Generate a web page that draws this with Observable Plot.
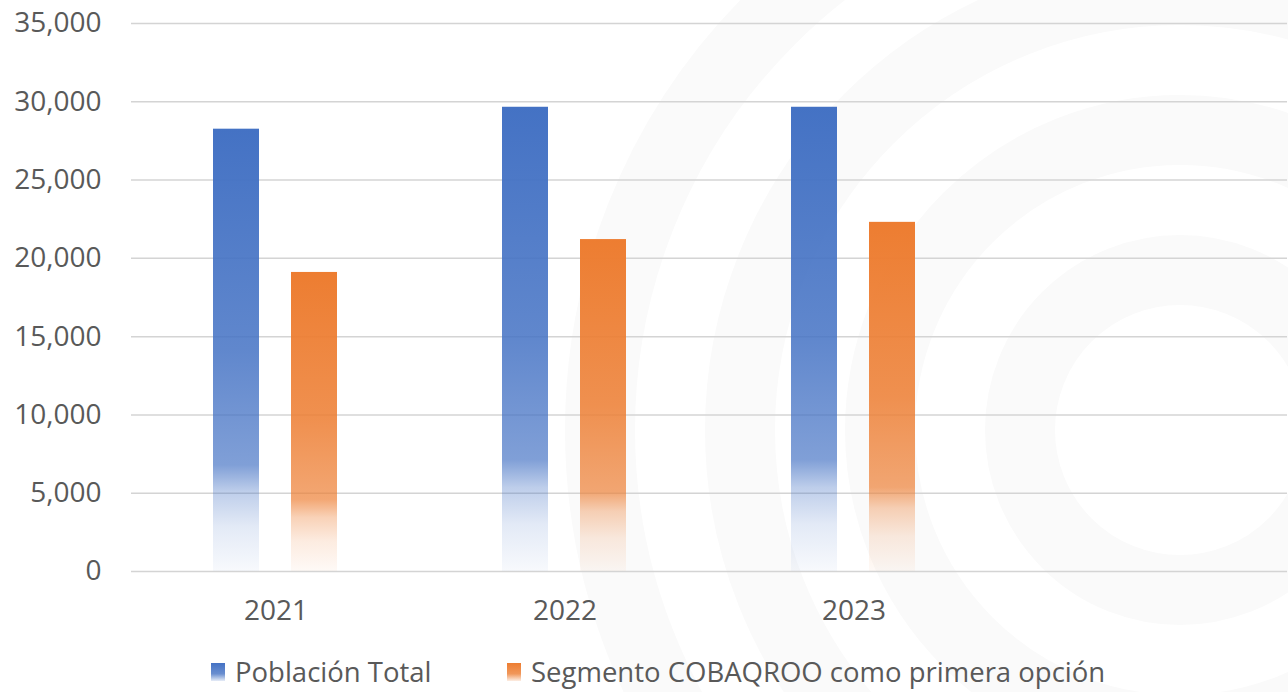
<!DOCTYPE html>
<html>
<head>
<meta charset="utf-8">
<script src="https://cdn.jsdelivr.net/npm/d3@7"></script>
<script src="https://cdn.jsdelivr.net/npm/@observablehq/plot@0.6"></script>
<style>
  html, body { margin: 0; padding: 0; background: #fff; }
  body { width: 1288px; height: 692px; overflow: hidden; position: relative; font-family: "Open Sans", "Noto Sans", sans-serif; }
  #bg { position: absolute; left: 0; top: 0; }
  #chart { position: absolute; left: 0; top: 0; }
  #legend { position: absolute; left: 0; top: 653px; width: 1288px; height: 40px; font-size: 27.5px; color: #595959; }
  .item { position: absolute; top: 0; display: flex; align-items: center; }
  .sw { width: 14px; height: 18px; margin-right: 10px; }
</style>
</head>
<body>
<svg id="bg" width="1288" height="692"></svg>
<div id="chart"></div>
<div id="legend"></div>
<script>
const years = ["2021", "2022", "2023", " "];
const seriesNames = ["Población Total", "Segmento COBAQROO como primera opción"];
const poblacionTotal = [28250, 29650, 29650, null];
const segmentoCobaqroo = [19100, 21200, 22300, null];
const yTicks = [0, 5000, 10000, 15000, 20000, 25000, 30000, 35000];
const seriesColors = ["#4472C4", "#ED7D31"];

// faint background watermark rings
const bg = d3.select("#bg");
[[1180, 430, 160], [1180, 430, 300], [1180, 430, 440], [1180, 430, 580]].forEach(([cx, cy, r]) => {
  bg.append("circle").attr("cx", cx).attr("cy", cy).attr("r", r)
    .attr("fill", "none").attr("stroke", "#fafafa").attr("stroke-width", 70);
});

const data = [];
years.forEach((y, i) => {
  data.push({year: y, series: seriesNames[0], value: poblacionTotal[i]});
  data.push({year: y, series: seriesNames[1], value: segmentoCobaqroo[i]});
});

const plot = Plot.plot({
  width: 1288,
  height: 640,
  marginTop: 23,
  marginBottom: 69,
  marginLeft: 130,
  marginRight: 0,
  style: {fontFamily: "'Open Sans', 'Noto Sans', sans-serif", fontSize: "28px", color: "#595959", background: "transparent"},
  fx: {domain: years, padding: 0, label: null, axis: "bottom", tickSize: 0, tickPadding: 29},
  x: {domain: seriesNames, paddingInner: 0.405, paddingOuter: 1.038, axis: null},
  y: {domain: [0, 35000], ticks: yTicks, tickFormat: d3.format(","), label: null, tickSize: 0, tickPadding: 30},
  marks: [
    Plot.gridY(yTicks.filter(t => t > 0), {stroke: "#d4d4d4", strokeOpacity: 1, strokeWidth: 1.5}),
    Plot.ruleY([0], {stroke: "#d4d4d4", strokeWidth: 1.5}),
    Plot.barY(data, {
      fx: "year", x: "series", y: "value",
      fill: d => d.series === seriesNames[0] ? "url(#gradBlue)" : "url(#gradOrange)"
    })
  ]
});

// gradients
const svg = d3.select(plot);
const defs = svg.insert("defs", ":first-child");
function grad(id, color) {
  const g = defs.append("linearGradient").attr("id", id)
    .attr("x1", 0).attr("y1", 0).attr("x2", 0).attr("y2", 1);
  const stops = [[0, 1], [0.5, 0.85], [0.76, 0.68], [0.82, 0.35], [0.9, 0.15], [1, 0.04]];
  stops.forEach(([o, a]) => g.append("stop").attr("offset", o).attr("stop-color", color).attr("stop-opacity", a));
}
grad("gradBlue", seriesColors[0]);
grad("gradOrange", seriesColors[1]);

document.getElementById("chart").appendChild(plot);

// legend
const legend = d3.select("#legend");
const pos = [211, 507];
seriesNames.forEach((name, i) => {
  const it = legend.append("div").attr("class", "item").style("left", pos[i] + "px");
  it.append("div").attr("class", "sw")
    .style("background", `linear-gradient(to bottom, ${seriesColors[i]} 0%, ${seriesColors[i]}cc 60%, ${seriesColors[i]}22 100%)`);
  it.append("span").text(name);
});
</script>
</body>
</html>
